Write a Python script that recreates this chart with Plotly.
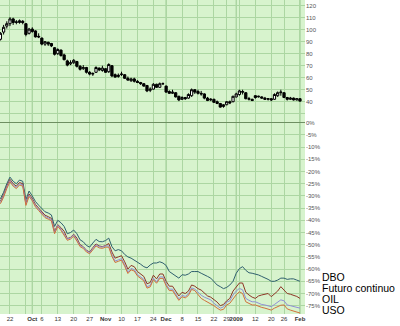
import pandas as pd
import plotly.graph_objects as go

# ---- categories: trading days (NYMEX, Sep 17 2008 - Feb 2 2009)
holidays = ["2008-11-27", "2008-12-25", "2009-01-01", "2009-01-19"]
dates = [d.strftime("%Y-%m-%d") for d in
         pd.bdate_range("2008-09-17", "2009-02-02", freq="C", holidays=holidays)]

# ---- price candles (continuous future)
opens = [92, 98, 103, 105, 109, 106, 106, 107, 105, 97,
         100.5, 99, 94.5, 93, 88, 89.5, 88.5, 85, 80, 83,
         79, 74, 71.5, 72.5, 73.5, 69.5, 67.5, 68.5, 64.5, 63,
         64.5, 68, 66, 67.5, 65, 70, 62.5, 61, 62.5, 62.5,
         59.5, 57.5, 59, 57, 56, 55, 53.5, 49.5, 50.5, 54.5,
         52, 55, 53, 48.5, 47, 47.5, 44.5, 42, 43.5, 43,
         45, 50, 48.5, 47, 46.5, 43, 41.5, 42, 40, 38.5,
         36, 37.5, 40, 40, 44, 46, 48.5, 47.5, 42, 42,
         45, 44, 44, 43, 42, 42.5, 42, 45, 47.5, 47.5,
         43.5, 42, 43, 41.5, 42.5]
highs = [98, 104, 107, 110.5, 110, 108, 108.5, 108, 105.5, 101.5,
         102, 99.5, 97, 93.5, 90.5, 90, 89, 85.5, 84.5, 83.5,
         80, 75, 74.5, 75.5, 74, 70.5, 70.5, 69, 65.5, 64.5,
         69.5, 68.5, 70, 68, 72, 70.5, 63.5, 63.5, 65, 63,
         61, 60, 60, 58, 56.5, 55.5, 54, 52, 55.5, 55,
         56, 56, 53.5, 49.5, 50, 48, 45, 44.5, 44, 47,
         51, 50.5, 50, 49, 47, 44, 43, 42.5, 41, 39,
         38, 40.5, 41, 45, 47.5, 50, 50, 48, 44, 42.5,
         45.5, 45, 44.5, 44, 43, 43, 47, 48.5, 50, 48,
         44, 44, 43.5, 43, 43]
lows = [91, 96, 101, 103, 104, 104.5, 105, 104.5, 94.5, 96,
        97.5, 93.5, 93, 87, 86.5, 86.5, 85.5, 78.5, 79, 77.5,
        74.5, 69.5, 70.5, 71.5, 68.5, 66, 66.5, 63.5, 62, 61.5,
        64, 65.5, 65, 64, 64, 60.5, 60, 60, 61.5, 59,
        57.5, 56.5, 56, 55.5, 54, 52.5, 48, 48, 50, 51.5,
        51.5, 54, 47.5, 46.5, 46.5, 43.5, 40.5, 41.5, 41.5, 42.5,
        44, 46.5, 46, 45, 42, 40.5, 40.5, 39, 38, 35,
        35, 37, 38, 39.5, 43.5, 45, 46, 42, 41, 40.5,
        42.5, 43.5, 42.5, 41.5, 41, 40.5, 41.5, 44, 45, 43,
        41, 41.5, 41, 41, 40]
closes = [97, 102, 105, 109, 106, 106.5, 107.5, 106, 96, 100.5,
          98.5, 94, 94, 88, 90, 88, 86.5, 79.5, 83.5, 78.5,
          75, 70.5, 72.5, 74.5, 69.5, 67, 68.5, 64.5, 63, 63.5,
          68.5, 66.5, 68, 64.5, 71, 61.5, 60.5, 62, 63, 59.5,
          58, 59, 57, 56, 55, 53, 49, 50.5, 54.5, 52,
          55, 55, 48, 47, 48, 44, 41.5, 43.5, 42.5, 46,
          50, 48, 47, 46.5, 43, 41, 42, 39.5, 38.5, 35.5,
          37.5, 40, 39, 44.5, 46.5, 49, 48, 42.5, 42.5, 41,
          43.5, 44.5, 43, 42, 42.5, 41.5, 46, 47.5, 48, 43.5,
          42, 43, 41.5, 42.5, 40.5]

# ---- performance series (% change)
dbo = [-31.2, -28.5, -25, -22.3, -24, -25, -23.5, -24, -31.5, -28,
       -30, -32.3, -33.8, -35.3, -36.5, -37, -37.8, -42.5, -40, -41,
       -42.5, -45.5, -45, -44, -45.5, -48, -48.8, -50.3, -51, -49.3,
       -47.8, -48.7, -48.8, -48.3,
       -47.3, -50.8, -52.5, -52, -52.5, -54, -55, -55.5, -56.3, -57,
       -58, -59, -59.5, -58.3, -57.5, -57.5, -57, -57.5,
       -58.5, -61, -62, -63, -63.7, -62.3, -62.5, -62, -61, -61,
       -61, -61.7, -62.5, -63, -63.7, -65, -66.5, -67.2, -68, -67.5,
       -66.5, -65,
       -61.7, -59.8, -59, -60.5, -61.5, -61.7, -62, -62.4, -63, -63.5,
       -64.2, -65, -65, -64.5, -63.7, -63.7, -64.2, -64, -64, -64.5,
       -65]
futuro = [-32.2, -29.5, -26, -23.2, -25, -26, -24.5, -25, -33, -29.2,
          -31, -33.5, -35, -36.5, -37.9, -38.5, -39.2, -44.5, -41.8, -43,
          -44.5, -47.5, -47, -45.7, -47.3, -50, -50.8, -52.3, -53, -51.2,
          -49.7, -50.5, -50.8, -50.3,
          -49.5, -53, -55.5, -55, -54.5, -57, -60, -58.5, -59, -61,
          -62, -63, -66, -65.5, -62.5, -64, -62, -62,
          -65, -67, -67, -69, -71, -69.5, -70, -69, -66.5, -67,
          -68, -68.6, -70, -71, -71.5, -72.5, -73.5, -75, -74.5, -73,
          -72, -69,
          -67.5, -65.7, -65.7, -69.5, -70.6, -71.5, -72, -71, -70.6, -70.3,
          -70, -71.3, -70, -69, -67.2, -68.5, -70, -70.3, -70.6, -71.2,
          -72]
oil = [-32.7, -30, -26.5, -23.7, -25.5, -26.5, -25, -25.5, -33.4, -29.7,
       -31.5, -34, -35.5, -37, -38.4, -39, -39.7, -45, -42, -43.6,
       -45.5, -47.7, -47.2, -46, -48, -50.3, -51, -52.5, -53.2, -51.5,
       -50, -50.8, -51, -50.5,
       -50.5, -54.2, -56.7, -56.2, -55.7, -58.2, -61.2, -59.7, -60.2, -62.2,
       -63.2, -64.2, -67.2, -66.7, -63.7, -65.2, -63.2, -63.2,
       -66.2, -68.2, -68.2, -70.2, -72.2, -70.7, -71.2, -70.2, -67.7, -68.2,
       -69.5, -70.7, -71.5, -72.2, -72.6, -74, -75, -76, -75.5, -73.5,
       -73, -70.6,
       -69, -67.9, -68.5, -72, -72.8, -73.4, -73.4, -74, -74.5, -74.7,
       -75, -75.4, -74.5, -73.4, -72.6, -73, -74.7, -75, -75.4, -75.6,
       -76]
uso = [-33.2, -30.5, -27, -24.2, -26, -27, -25.5, -26, -33.9, -30.2,
       -32, -34.5, -36, -37.5, -38.9, -39.5, -40.2, -45.5, -42.5, -44.1,
       -46, -48.2, -47.7, -46.5, -48.5, -50.8, -51.5, -53, -53.7, -52,
       -50.5, -51.3, -51.5, -51,
       -51, -54.8, -57.3, -56.8, -56.3, -58.8, -61.8, -60.3, -60.8, -62.8,
       -63.8, -64.8, -67.8, -67.3, -64.3, -65.8, -63.8, -63.8,
       -66.8, -68.8, -68.8, -70.8, -72.8, -71.3, -71.8, -70.8, -68.3, -68.8,
       -70.5, -72, -72.8, -73.5, -74, -75, -76, -76.8, -76.5, -74.7,
       -74, -72,
       -70.5, -69.3, -70, -73.4, -74, -74.7, -74.7, -75.3, -75.7, -76,
       -76.4, -76.8, -76, -75.4, -74.8, -74.7, -76.3, -76.8, -77.2, -77.4,
       -78]

series_names = ["DBO", "Futuro continuo", "OIL", "USO"]
series_vals = [dbo, futuro, oil, uso]
series_colors = ["#2f5f6e", "#8e3526", "#8f8fd6", "#d0703a"]

# ---- axis labels
week_ticks = ["2008-09-22", "2008-09-29", "2008-10-01", "2008-10-06", "2008-10-13",
              "2008-10-20", "2008-10-27", "2008-11-03", "2008-11-10", "2008-11-17",
              "2008-11-24", "2008-12-01", "2008-12-08", "2008-12-15", "2008-12-22",
              "2008-12-29", "2009-01-02", "2009-01-05", "2009-01-12", "2009-01-20",
              "2009-01-26", "2009-02-02"]
week_labels = ["22", "", "<b>Oct</b>", "6", "13", "20", "27", "<b>Nov</b>", "10", "17",
               "24", "<b>Dec</b>", "8", "15", "22", "29", "<b>2009</b>", "", "12", "20",
               "26", "<b>Feb</b>"]
month_starts = ["2008-10-01", "2008-11-03", "2008-12-01", "2009-01-02", "2009-02-02"]
price_ticks = [30, 40, 50, 60, 70, 80, 90, 100, 110, 120]
price_labels = ["", "40", "50", "60", "70", "80", "90", "100", "110", "120"]
pct_ticks = [0, -5, -10, -15, -20, -25, -30, -35, -40, -45, -50, -55, -60, -65, -70, -75]
pct_labels = [f"{v}%" for v in pct_ticks]

assert len(dates) == len(opens) == len(dbo) == len(uso) == len(oil) == len(futuro)

fig = go.Figure()
for name, vals, col in zip(series_names, series_vals, series_colors):
    fig.add_trace(go.Scatter(x=dates, y=vals, mode="lines", name=name,
                             line=dict(color=col, width=1), yaxis="y2",
                             showlegend=False, hoverinfo="skip"))

fig.add_trace(go.Candlestick(
    x=dates, open=opens, high=highs, low=lows, close=closes,
    increasing=dict(line=dict(color="#000000", width=1), fillcolor="#ffffff"),
    decreasing=dict(line=dict(color="#000000", width=1), fillcolor="#000000"),
    whiskerwidth=0, showlegend=False, yaxis="y"))

grid = "#acd6a2"
for m in month_starts:
    fig.add_shape(type="line", x0=m, x1=m, xref="x", y0=0, y1=1, yref="paper",
                  line=dict(color="#8fc086", width=1), layer="below")

tick_font = dict(family="Liberation Sans, Arial, sans-serif", size=6, color="#555555")
fig.update_layout(
    width=400, height=326,
    margin=dict(l=0, r=95, t=0, b=12),
    paper_bgcolor="#ffffff", plot_bgcolor="#d7f3cd",
    boxgap=0.3, boxgroupgap=0,
    xaxis=dict(type="category", range=[-0.13, 95.58], tickmode="array",
               tickvals=week_ticks, ticktext=week_labels, showgrid=True,
               gridcolor=grid, gridwidth=1, tickangle=0,
               tickfont=dict(tick_font, color="#333333"),
               rangeslider=dict(visible=False), ticks="", showline=False,
               zeroline=False, fixedrange=True),
    yaxis=dict(range=[-136.9, 124.75], side="right", tickmode="array",
               tickvals=price_ticks, ticktext=price_labels, showgrid=True,
               gridcolor=grid, zeroline=False, tickfont=tick_font, ticks=""),
    yaxis2=dict(range=[-78.4, 50.3], side="right", overlaying="y", tickmode="array",
                tickvals=pct_ticks, ticktext=pct_labels, showgrid=True,
                gridcolor=grid, zeroline=True, zerolinecolor="#6e8f62",
                zerolinewidth=1, tickfont=tick_font, ticks=""),
    showlegend=False,
)

legend_y = [276.7, 288.3, 299.3, 310.0]
for name, yy in zip(series_names, legend_y):
    fig.add_annotation(text=name, xref="paper", yref="paper",
                       x=320 / 305, y=1 - yy / 314, xanchor="left", yanchor="middle",
                       showarrow=False,
                       font=dict(family="Liberation Sans, Arial, sans-serif",
                                 size=10.5, color="#000000"))

fig.write_html("out.html")
